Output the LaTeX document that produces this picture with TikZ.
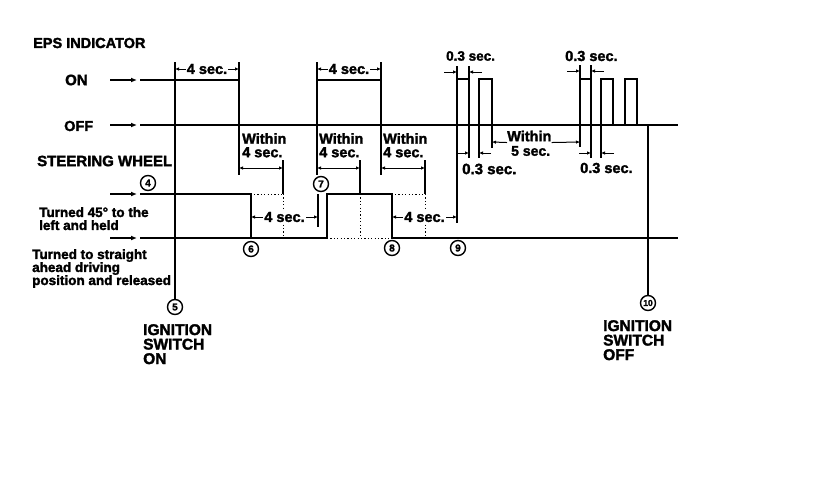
\documentclass[tikz,border=0pt]{standalone}
\usepackage{fontspec}
\setmainfont{Liberation Sans}
\newfontfamily\hv{Liberation Sans Bold}[FakeBold=2]
\usetikzlibrary{arrows.meta}
\newcommand\fs[1]{\hv\fontsize{#1}{#1}\selectfont}
\begin{document}
\begin{tikzpicture}[x=1pt,y=-1pt,
  sig/.style={line width=2.8pt, line join=miter},
  refl/.style={line width=1.3pt},
  thinl/.style={line width=1.1pt},
  dots/.style={line width=1pt, dash pattern=on 1.2pt off 2.2pt},
  dimarr/.style={line width=1pt, {Latex[length=4pt,width=3.5pt]}-{Latex[length=4pt,width=3.5pt]}},
  onearr/.style={line width=1pt, -{Latex[length=4pt,width=3.5pt]}},
  bigarr/.style={line width=2.4pt, -{Latex[length=6pt,width=5pt]}},
  lbl/.style={font=\fs{14.5}, inner sep=0pt},
  small/.style={font=\hv\fontsize{13.5}{13}\selectfont, inner sep=0pt, align=left},
  big/.style={font=\hv\fontsize{15.5}{14.5}\selectfont, inner sep=0pt, align=left},
  dimlbl/.style={font=\fs{14.5}, inner sep=1pt, fill=white},
  circ/.style={circle, draw, line width=1.4pt, minimum size=15pt, inner sep=0pt, fill=white, font=\fs{10}}]
\useasboundingbox (0,0) rectangle (816,498);
\fill[white] (0,0) rectangle (816,498);

% ---------- labels on the left ----------
\node[lbl, anchor=west, font=\fs{14.5}] (eps) at (33,43) {EPS INDICATOR};
\node[lbl, anchor=west, font=\fs{15}] (on) at (65,80) {ON};
\node[lbl, anchor=west, font=\fs{14.5}] (off) at (64,126) {OFF};
\node[lbl, anchor=west, font=\fs{15}] (sw) at (37,161) {STEERING WHEEL};
\node[small, anchor=north west] (held) at (39,207) {Turned 45° to the\\left and held};
\node[small, anchor=north west] (rel) at (32,249) {Turned to straight\\ahead driving\\position and released};
\node[big, anchor=north west] (ignon) at (143,324) {IGNITION\\SWITCH\\ON};
\node[big, anchor=north west] (ignoff) at (603,320) {IGNITION\\SWITCH\\OFF};

% left arrows
\coordinate (aON0) at (110,80);   \coordinate (aON1) at (137,80);
\coordinate (aOF0) at (110,125);  \coordinate (aOF1) at (137,125);
\coordinate (aUP0) at (110,194);  \coordinate (aUP1) at (137,194);
\coordinate (aLO0) at (110,238);  \coordinate (aLO1) at (137,238);
\draw[bigarr] (aON0) -- (aON1);
\draw[bigarr] (aOF0) -- (aOF1);
\draw[bigarr] (aUP0) -- (aUP1);
\draw[bigarr] (aLO0) -- (aLO1);

% ---------- circles ----------
\node[circ] (c4) at (148,183) {4};
\node[circ] (c5) at (175,307) {5};
\node[circ] (c6) at (251,249) {6};
\node[circ] (c7) at (321,184) {7};
\node[circ] (c8) at (392,248) {8};
\node[circ] (c9) at (458,248) {9};
\node[circ, font=\fs{8.5}] (c10) at (648,303) {10};

% ---------- reference lines ----------
\draw[refl] (140,80) -- (175,80);
\draw[refl] (140,125) -- (678,125);
\draw[line width=2.2pt] (140,238) -- (251,238);
\draw[dots] (327,238) -- (392,238);

% ignition verticals
\draw[thinl] (175,80) -- (c5.north);
\draw[thinl] (648,125) -- (c10.north);

% ---------- EPS indicator signal ----------
\draw[sig] (140,125) -- (175,125) -- (175,80) -- (239,80) -- (239,125) -- (317,125) -- (317,80) -- (381,80) -- (381,125)
  -- (457,125) -- (457,79) -- (469,79) -- (469,125) -- (479,125) -- (479,79) -- (492,79) -- (492,125)
  -- (580,125) -- (580,79) -- (591,79) -- (591,125) -- (601,125) -- (601,79) -- (613,79) -- (613,125)
  -- (625,125) -- (625,79) -- (637,79) -- (637,125) -- (678,125);

% ---------- steering signal ----------
\draw[sig] (140,194) -- (251,194) -- (251,238) -- (327,238) -- (327,194) -- (392,194) -- (392,238) -- (678,238);

% ---------- top 4 sec. dimensions ----------
\draw[thinl] (175,62) -- (175,80);
\draw[thinl] (239,62) -- (239,80);
\draw[dimarr] (175,69) -- node[dimlbl] {4 sec.} (239,69);
\draw[thinl] (317,62) -- (317,80);
\draw[thinl] (381,62) -- (381,80);
\draw[dimarr] (317,69) -- node[dimlbl] {4 sec.} (381,69);

% ---------- Within 4 sec. dimensions ----------
\draw[thinl] (239,125) -- (239,175);
\node[small, anchor=north west, font=\hv\fontsize{14.5}{13.5}\selectfont] (w1) at (242,133) {Within\\4 sec.};
\draw[dimarr] (239,168) -- (283,168);
\draw[thinl] (283,160) -- (283,194);
\draw[dots] (283,194) -- (283,238);
\draw[dots] (254,194) -- (283,194);

\draw[thinl] (317,125) -- (317,175);
\node[small, anchor=north west, font=\hv\fontsize{14.5}{13.5}\selectfont] (w2) at (319,133) {Within\\4 sec.};
\draw[dimarr] (317,168) -- (360,168);
\draw[thinl] (360,160) -- (360,194);
\draw[dots] (360,194) -- (360,238);

\draw[thinl] (381,125) -- (381,175);
\node[small, anchor=north west, font=\hv\fontsize{14.5}{13.5}\selectfont] (w3) at (383,133) {Within\\4 sec.};
\draw[dimarr] (381,168) -- (425,168);
\draw[thinl] (425,160) -- (425,194);
\draw[dots] (425,194) -- (425,238);
\draw[dots] (395,194) -- (425,194);

% ---------- steering 4 sec. dimensions ----------
\draw[thinl] (318,194) -- (318,227);
\draw[dimarr] (251,217) -- node[dimlbl] {4 sec.} (318,217);
\draw[thinl] (457,125) -- (457,223);
\draw[dimarr] (392,217) -- node[dimlbl] {4 sec.} (457,217);

% ---------- 0.3 sec. group 1 ----------
\draw[thinl] (457,66) -- (457,79);
\draw[thinl] (469,66) -- (469,79);
\draw[onearr] (444,72) -- (457,72);
\draw[onearr] (482,72) -- (469,72);
\node[lbl, anchor=west, font=\fs{13.5}] (t1) at (446,56) {0.3 sec.};
\draw[thinl] (469,125) -- (469,158);
\draw[thinl] (479,125) -- (479,158);
\draw[onearr] (457,153) -- (469,153);
\draw[onearr] (491,153) -- (479,153);
\node[lbl, anchor=west, font=\fs{15}] (b1) at (462,169) {0.3 sec.};

% ---------- Within 5 sec. ----------
\draw[thinl] (492,125) -- (492,148);
\draw[thinl] (580,125) -- (580,147);
\node[lbl, anchor=west, font=\fs{14.5}] (w5) at (507,136) {Within};
\node[lbl, anchor=west, font=\fs{14}] (s5) at (511,151) {5 sec.};
\draw[onearr] (w5.south west) ++(0,1) -- (492,142);
\draw[onearr] (w5.south east) ++(0,1) -- (580,142);

% ---------- 0.3 sec. group 2 ----------
\draw[thinl] (580,65) -- (580,79);
\draw[thinl] (591,65) -- (591,79);
\draw[onearr] (567,71) -- (580,71);
\draw[onearr] (604,71) -- (591,71);
\node[lbl, anchor=west, font=\fs{14.5}] (t2) at (565,56) {0.3 sec.};
\draw[thinl] (591,125) -- (591,158);
\draw[thinl] (601,125) -- (601,158);
\draw[onearr] (579,153) -- (591,153);
\draw[onearr] (614,153) -- (601,153);
\node[lbl, anchor=west, font=\fs{14.5}] (b2) at (580,168) {0.3 sec.};
\end{tikzpicture}
\end{document}
